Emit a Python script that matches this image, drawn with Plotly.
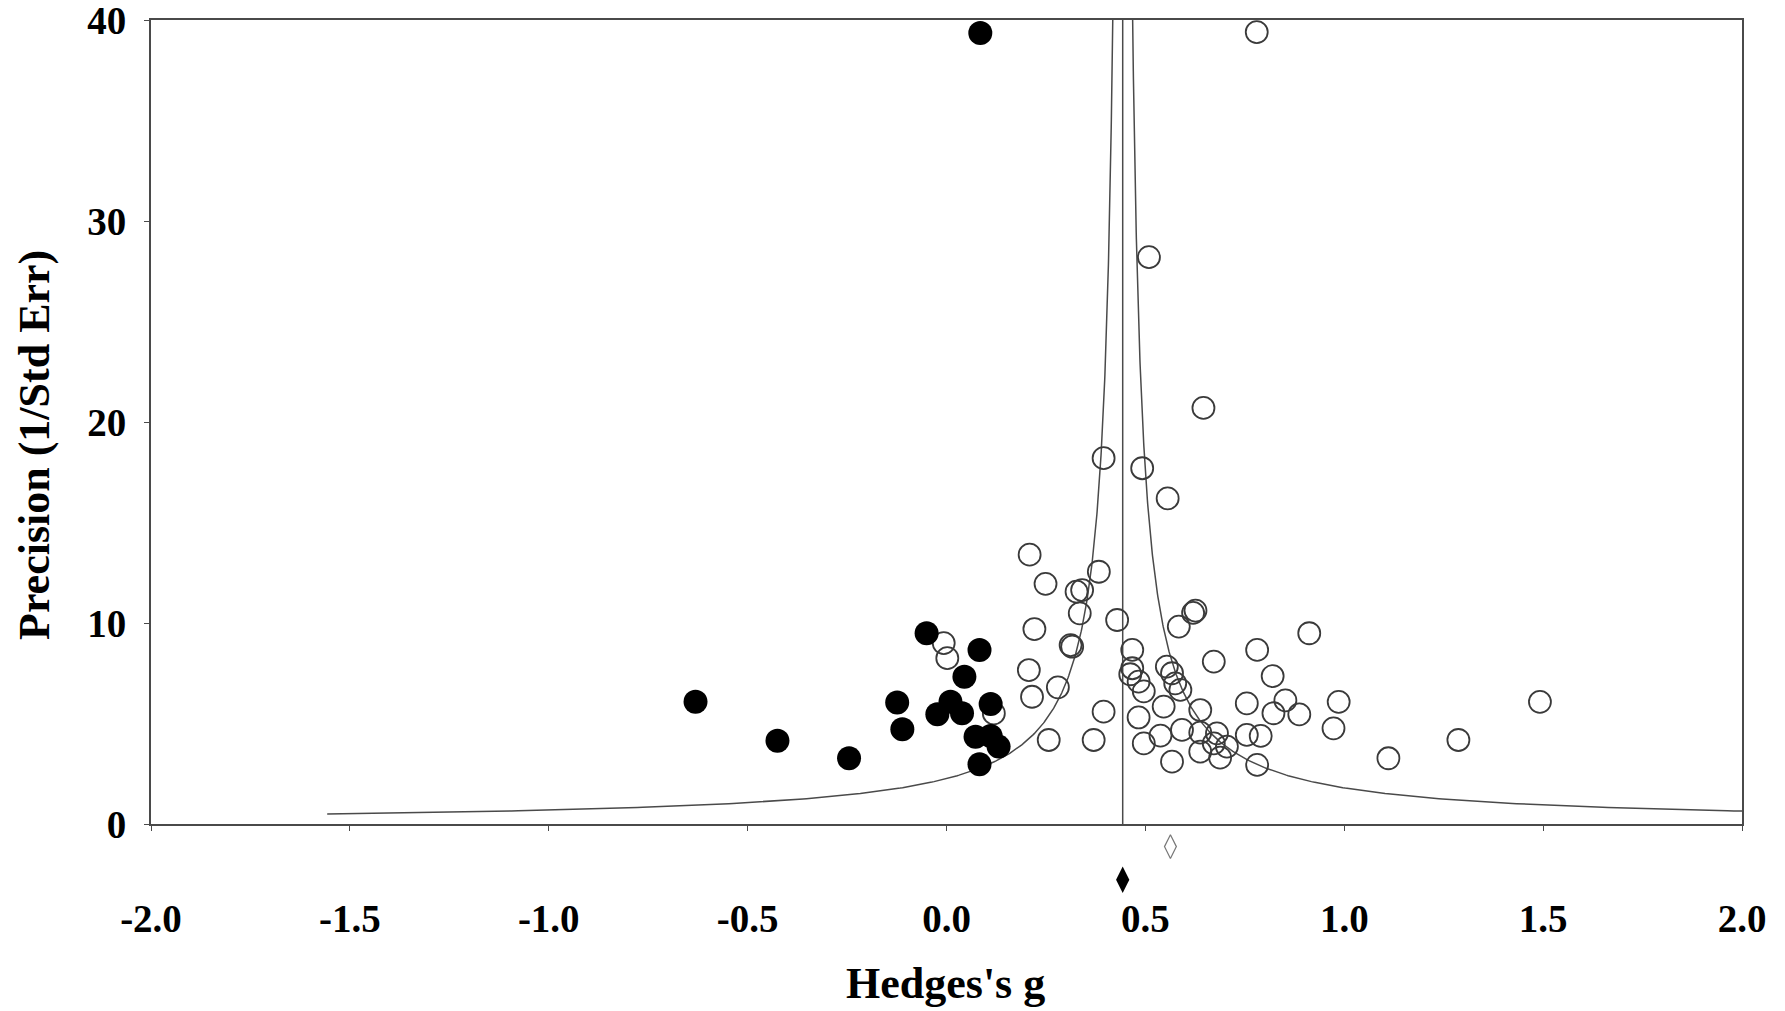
import numpy as np
import plotly.graph_objects as go

# ---- data ----
filled_g = [0.085, -0.631, -0.425, -0.245, -0.124, -0.111, -0.050, 0.083, 0.045,
            -0.023, 0.010, 0.039, 0.111, 0.073, 0.111, 0.131, 0.083]
filled_p = [39.35, 6.08, 4.14, 3.27, 6.04, 4.71, 9.49, 8.66, 7.33,
            5.46, 6.08, 5.51, 5.97, 4.34, 4.38, 3.85, 2.97]

open_g = [0.780, 0.509, 0.646, 0.395, 0.492, 0.556, 0.209, 0.383, 0.249, 0.327,
          0.341, 0.335, 0.429, 0.626, 0.620, 0.221, 0.584, 0.912, -0.007, 0.002,
          0.312, 0.316, 0.467, 0.781, 0.672, 0.207, 0.820, 0.467, 0.462, 0.483,
          0.496, 0.554, 0.567, 0.575, 0.588, 0.852, 0.755, 0.822, 0.887, 0.986,
          0.973, 1.111, 1.287, 1.492, 0.546, 0.638, 0.483, 0.592, 0.538, 0.496,
          0.638, 0.680, 0.755, 0.790, 0.672, 0.705, 0.638, 0.688, 0.567, 0.781,
          0.395, 0.257, 0.370, 0.215, 0.280, 0.119]
open_p = [39.4, 28.2, 20.7, 18.2, 17.7, 16.2, 13.4, 12.55, 11.95, 11.56,
          11.64, 10.48, 10.15, 10.62, 10.50, 9.70, 9.82, 9.49, 9.0, 8.25,
          8.90, 8.82, 8.66, 8.66, 8.08, 7.66, 7.36, 7.75, 7.45, 7.08,
          6.60, 7.83, 7.50, 7.00, 6.67, 6.15, 6.00, 5.51, 5.45, 6.08,
          4.76, 3.27, 4.18, 6.08, 5.84, 5.67, 5.30, 4.68, 4.40, 4.01,
          4.55, 4.51, 4.43, 4.38, 4.01, 3.85, 3.60, 3.30, 3.10, 2.94,
          5.59, 4.18, 4.18, 6.33, 6.80, 5.50]

pooled_estimate = 0.443      # combined effect (filled diamond / vertical line)
observed_estimate = 0.563    # open diamond
funnel_z = 1.0
precision_min, precision_max = 0.5, 40.0

x_ticks = [-2.0, -1.5, -1.0, -0.5, 0.0, 0.5, 1.0, 1.5, 2.0]
y_ticks = [0, 10, 20, 30, 40]

# ---- figure ----
FONT = "Liberation Serif, Times New Roman, serif"
LINE = "#4a4a4a"
PAGE = 8                              # default body margin of the html page
W, H = 1785 - PAGE, 1011 - PAGE
M_L, M_R, M_T, M_B = 151 - PAGE, 43, 20 - PAGE, 100
axis_px = 824 - PAGE                  # pixel row of precision = 0
plot_w = W - M_L - M_R
plot_h = H - M_T - M_B
main_bottom = (H - M_B - axis_px) / plot_h

prec = np.geomspace(precision_min, precision_max, 400)
fig = go.Figure()

fig.add_trace(go.Scatter(x=pooled_estimate - funnel_z / prec, y=prec, mode="lines",
                         line=dict(color=LINE, width=1.5), hoverinfo="skip", showlegend=False))
fig.add_trace(go.Scatter(x=pooled_estimate + funnel_z / prec, y=prec, mode="lines",
                         line=dict(color=LINE, width=1.5), hoverinfo="skip", showlegend=False))
fig.add_trace(go.Scatter(x=[pooled_estimate, pooled_estimate], y=[0, 40], mode="lines",
                         line=dict(color=LINE, width=1.5), hoverinfo="skip", showlegend=False))

fig.add_trace(go.Scatter(x=open_g, y=open_p, mode="markers",
                         marker=dict(symbol="circle-open", size=22, color="#3a3a3a",
                                     line=dict(width=1.8, color="#3a3a3a")),
                         showlegend=False))
fig.add_trace(go.Scatter(x=filled_g, y=filled_p, mode="markers",
                         marker=dict(symbol="circle", size=24, color="black"),
                         showlegend=False))

# diamonds in the strip below the axis (secondary y axis, hidden)
fig.add_trace(go.Scatter(x=[observed_estimate], y=[0.74], mode="markers", yaxis="y2",
                         marker=dict(symbol="diamond-tall-open", size=17, color="#777",
                                     line=dict(width=1.2, color="#777")),
                         showlegend=False))
fig.add_trace(go.Scatter(x=[pooled_estimate], y=[0.36], mode="markers", yaxis="y2",
                         marker=dict(symbol="diamond-tall", size=19, color="black"),
                         showlegend=False))

fig.update_layout(
    width=W, height=H,
    margin=dict(l=M_L, r=M_R, t=M_T, b=M_B, autoexpand=False),
    paper_bgcolor="white", plot_bgcolor="white",
    font=dict(family=FONT, color="black"),
    xaxis=dict(
        range=[-2, 2], tickvals=x_ticks, ticktext=[f"{v:.1f}" for v in x_ticks],
        anchor="y", showgrid=False, zeroline=False, showline=True, mirror=True,
        linecolor=LINE, linewidth=2, ticks="outside", ticklen=5, tickcolor=LINE,
        tickfont=dict(family=FONT, size=39, weight="bold"),
        ticklabelstandoff=54, ticklabeloverflow="allow", automargin=False,
    ),
    yaxis=dict(
        range=[0, 40], tickvals=y_ticks, domain=[main_bottom, 1],
        showgrid=False, zeroline=False, showline=True, mirror=True,
        linecolor=LINE, linewidth=2, ticks="outside", ticklen=5, tickcolor=LINE,
        tickfont=dict(family=FONT, size=39, weight="bold"),
        ticklabelstandoff=10, ticklabeloverflow="allow", automargin=False,
    ),
    yaxis2=dict(range=[0, 1], domain=[0, main_bottom], visible=False, fixedrange=True),
    annotations=[
        dict(text="Precision (1/Std Err)", xref="paper", yref="paper",
             x=(34 - PAGE - M_L) / plot_w, y=(H - M_B - (445 - PAGE)) / plot_h,
             xanchor="center", yanchor="middle", textangle=-90, showarrow=False,
             font=dict(family=FONT, size=44, weight="bold", color="black")),
        dict(text="Hedges's g", xref="paper", yref="paper",
             x=(945 - PAGE - M_L) / plot_w, y=(H - M_B - (983 - PAGE)) / plot_h,
             xanchor="center", yanchor="middle", showarrow=False,
             font=dict(family=FONT, size=44, weight="bold", color="black")),
    ],
)

fig.write_html("out.html")
